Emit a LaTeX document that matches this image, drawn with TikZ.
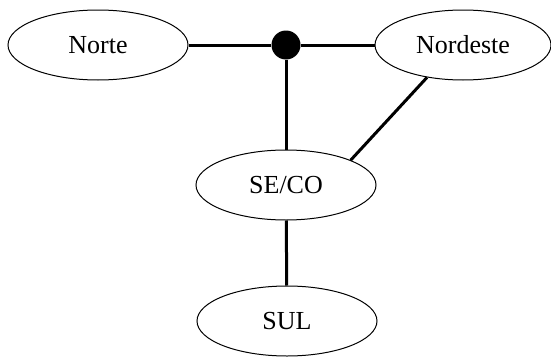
\documentclass[tikz,border=0pt]{standalone}
\usepackage{fontspec}
\setmainfont{Liberation Serif}
\usetikzlibrary{shapes, positioning}

\begin{document}
\begin{tikzpicture}[x=1pt, y=-1pt,
    region/.style={shape=ellipse, draw=black, line width=1pt, minimum width=180pt, minimum height=70pt, inner sep=0pt, font=\fontsize{26}{30}\selectfont},
    junction/.style={shape=circle, fill=black, minimum size=29pt, inner sep=0pt},
    link/.style={line width=3pt, black}]
    \useasboundingbox (0,0) rectangle (551,356);
    \node[region] (N)  at ( 98, 45) {Norte};
    \node[region, minimum width=176pt] (NE) at (463, 45) {Nordeste};
    \node[junction] (J) at (286, 45) {};
    \node[region] (SE) at (286,185) {SE/CO};
    \node[region] (S)  at (287,321) {SUL};
    \path[link] (N)  edge (J);
    \path[link] (J)  edge (NE);
    \path[link] (J)  edge (SE);
    \path[link] (NE.222) edge (SE.21);
    \path[link] (SE) edge (S);
\end{tikzpicture}
\end{document}
